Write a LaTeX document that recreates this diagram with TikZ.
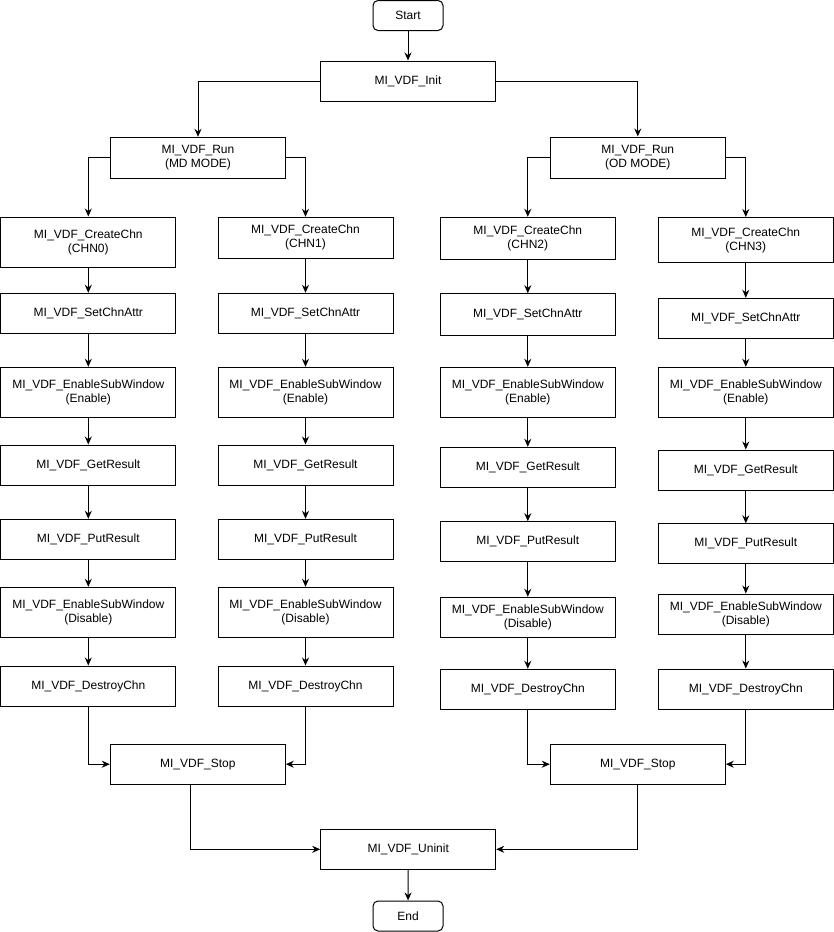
\documentclass[tikz,border=0pt]{standalone}
\usepackage{fontspec}
\setmainfont{Liberation Sans}
\usepackage{tikz}
\usetikzlibrary{arrows.meta}
\usetikzlibrary{positioning}

\begin{document}
\begin{tikzpicture}[x=1pt,y=-1pt,
    box/.style={draw,line width=1pt,minimum width=175pt,minimum height=40pt,inner sep=0pt,align=center,font=\fontsize{12}{14}\selectfont},
    term/.style={box,rounded corners=5pt,minimum width=70pt,minimum height=30pt},
    arr/.style={line width=1pt,-{Stealth[length=8pt,width=7pt]}}]

        \useasboundingbox (0,0) rectangle (834,932);

        \node[term] (start) at (408,15.5) {Start};
        \node[box] (init) at (408,81) {MI\_VDF\_Init};
        \node[box,minimum height=41pt] (runmd) at (198,157.8) {MI\_VDF\_Run\\(MD MODE)};
        \node[box,minimum height=41pt] (runod) at (637.8,157.5) {MI\_VDF\_Run\\(OD MODE)};

        \node[box,minimum height=50pt] (create0) at (88.3,242) {MI\_VDF\_CreateChn\\(CHN0)};
        \node[box] (attr0) at (88.3,313.3) {MI\_VDF\_SetChnAttr};
        \node[box,minimum height=50pt] (enable0) at (88.3,392.3) {MI\_VDF\_EnableSubWindow\\(Enable)};
        \node[box] (get0) at (88.3,465) {MI\_VDF\_GetResult};
        \node[box] (put0) at (88.3,539.3) {MI\_VDF\_PutResult};
        \node[box,minimum height=50pt] (disable0) at (88.3,612.3) {MI\_VDF\_EnableSubWindow\\(Disable)};
        \node[box] (destroy0) at (88.3,686) {MI\_VDF\_DestroyChn};

        \node[box,minimum height=41pt] (create1) at (305.5,237.8) {MI\_VDF\_CreateChn\\(CHN1)};
        \node[box] (attr1) at (305.5,313.3) {MI\_VDF\_SetChnAttr};
        \node[box,minimum height=50pt] (enable1) at (305.5,392.3) {MI\_VDF\_EnableSubWindow\\(Enable)};
        \node[box] (get1) at (305.5,465) {MI\_VDF\_GetResult};
        \node[box] (put1) at (305.5,539.3) {MI\_VDF\_PutResult};
        \node[box,minimum height=50pt] (disable1) at (305.5,612.3) {MI\_VDF\_EnableSubWindow\\(Disable)};
        \node[box] (destroy1) at (305.5,686) {MI\_VDF\_DestroyChn};

        \node[box,minimum height=42pt] (create2) at (527.8,238.3) {MI\_VDF\_CreateChn\\(CHN2)};
        \node[box,minimum height=42pt] (attr2) at (527.8,314.7) {MI\_VDF\_SetChnAttr};
        \node[box,minimum height=50pt] (enable2) at (527.8,392.3) {MI\_VDF\_EnableSubWindow\\(Enable)};
        \node[box] (get2) at (527.8,467.3) {MI\_VDF\_GetResult};
        \node[box] (put2) at (527.8,541.7) {MI\_VDF\_PutResult};
        \node[box] (disable2) at (527.8,617.3) {MI\_VDF\_EnableSubWindow\\(Disable)};
        \node[box] (destroy2) at (527.8,689.3) {MI\_VDF\_DestroyChn};

        \node[box,minimum height=45pt] (create3) at (745.8,240) {MI\_VDF\_CreateChn\\(CHN3)};
        \node[box] (attr3) at (745.8,318.3) {MI\_VDF\_SetChnAttr};
        \node[box,minimum height=50pt] (enable3) at (745.8,392.3) {MI\_VDF\_EnableSubWindow\\(Enable)};
        \node[box] (get3) at (745.8,470) {MI\_VDF\_GetResult};
        \node[box] (put3) at (745.8,543.8) {MI\_VDF\_PutResult};
        \node[box] (disable3) at (745.8,614) {MI\_VDF\_EnableSubWindow\\(Disable)};
        \node[box] (destroy3) at (745.8,689) {MI\_VDF\_DestroyChn};

        \node[box] (stopmd) at (197.8,764.2) {MI\_VDF\_Stop};
        \node[box] (stopod) at (637.8,764.2) {MI\_VDF\_Stop};
        \node[box] (uninit) at (408.2,849.3) {MI\_VDF\_Uninit};
        \node[term] (finish) at (408,916) {End};

        \draw[arr] (start) -- (init);
        \draw[arr] (init.west) -| (runmd.north); \draw[arr] (init.east) -| (runod.north);
        \draw[arr] (runmd.west) -| (create0.north); \draw[arr] (runmd.east) -| (create1.north);
        \draw[arr] (runod.west) -| (create2.north); \draw[arr] (runod.east) -| (create3.north);

        \draw[arr] (create0) -- (attr0); \draw[arr] (attr0) -- (enable0); \draw[arr] (enable0) -- (get0);
        \draw[arr] (get0) -- (put0); \draw[arr] (put0) -- (disable0); \draw[arr] (disable0) -- (destroy0);
        \draw[arr] (create1) -- (attr1); \draw[arr] (attr1) -- (enable1); \draw[arr] (enable1) -- (get1);
        \draw[arr] (get1) -- (put1); \draw[arr] (put1) -- (disable1); \draw[arr] (disable1) -- (destroy1);
        \draw[arr] (create2) -- (attr2); \draw[arr] (attr2) -- (enable2); \draw[arr] (enable2) -- (get2);
        \draw[arr] (get2) -- (put2); \draw[arr] (put2) -- (disable2); \draw[arr] (disable2) -- (destroy2);
        \draw[arr] (create3) -- (attr3); \draw[arr] (attr3) -- (enable3); \draw[arr] (enable3) -- (get3);
        \draw[arr] (get3) -- (put3); \draw[arr] (put3) -- (disable3); \draw[arr] (disable3) -- (destroy3);

        \draw[arr] (destroy0.south) |- (stopmd.west); \draw[arr] (destroy1.south) |- (stopmd.east);
        \draw[arr] (destroy2.south) |- (stopod.west); \draw[arr] (destroy3.south) |- (stopod.east);

        \draw[arr] ([xshift=-7pt]stopmd.south) |- (uninit.west); \draw[arr] (stopod.south) |- (uninit.east);
        \draw[arr] (uninit) -- (finish);

\end{tikzpicture}
\end{document}
